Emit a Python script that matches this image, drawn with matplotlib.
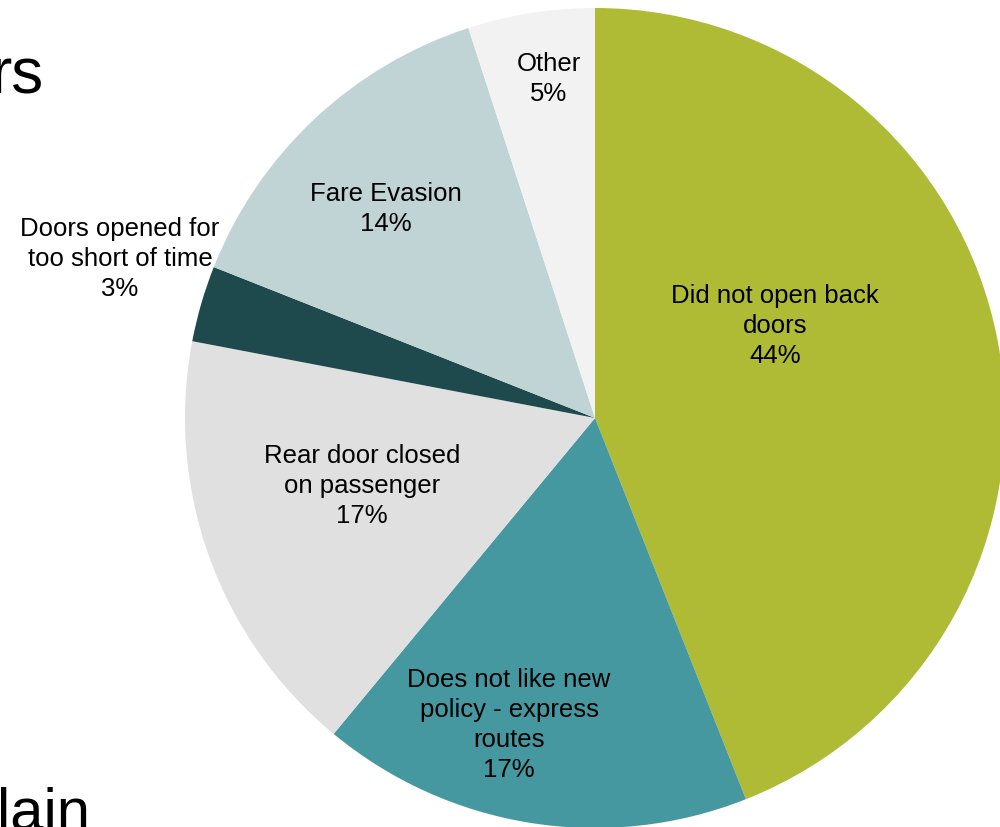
import numpy as np
import matplotlib.pyplot as plt

plt.rcParams['font.family'] = ['Liberation Sans', 'DejaVu Sans']

labels = ["Did not open back\ndoors", "Does not like new\npolicy - express\nroutes",
          "Rear door closed\non passenger", "Doors opened for\ntoo short of time",
          "Fare Evasion", "Other"]
shares = [44, 17, 17, 3, 14, 5]
colors = ["#AFBA35", "#4698A0", "#E0E0E0", "#1F4A4D", "#C0D3D5", "#F2F2F2"]
# label anchor points in pixels (x from left, y from top)
label_pos = [(775, 326), (509, 725), (362, 486), (120, 259), (386, 209), (549, 79)]

W, H = 1000, 827
fig = plt.figure(figsize=(W / 100, H / 100), dpi=100)
ax = fig.add_axes([0, 0, 1, 1])

cx, cy, r = 595, H - 418, 410
ax.pie(shares, colors=colors, startangle=90, counterclock=False,
       center=(cx, cy), radius=r, frame=True,
       wedgeprops=dict(linewidth=0))
ax.set_xlim(0, W)
ax.set_ylim(0, H)
ax.axis('off')

for lab, v, (px, py) in zip(labels, shares, label_pos):
    ax.text(px, H - py, f"{lab}\n{v}%", ha='center', va='center',
            fontsize=18.5, linespacing=1.33, color='black')

# pieces of the slide title and body text behind the chart
ax.text(44, H - 93, "rs", ha='right', va='baseline', fontsize=46)
ax.text(90, H - 829, "lain", ha='right', va='baseline', fontsize=43)

fig.savefig("out.png", dpi=100)
